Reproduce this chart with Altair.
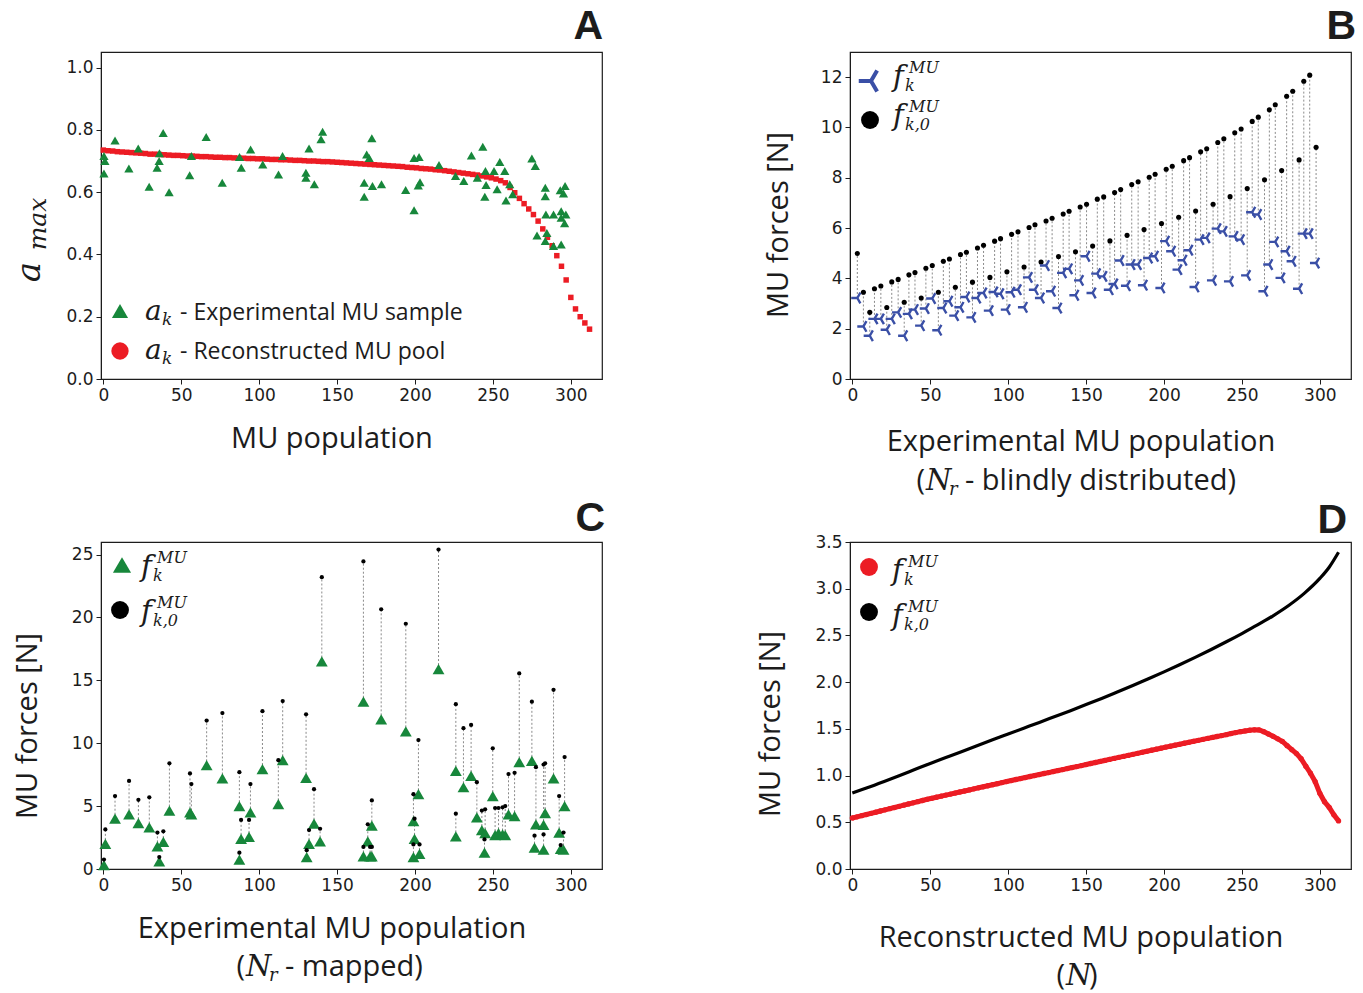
import altair as alt
import pandas as pd

# ---------------- data ----------------
# Panel A: experimental MU sample (green triangles)
a_exp_x = [0.4, 1, 0.4, 7.5, 16.4, 22.4, 29.4, 34.5, 35.8, 36, 38.4, 42.2, 55.4, 56.5, 66, 76.3, 87.4, 88.5,
           94.5, 102.3, 112.4, 115, 130, 130, 132, 135.4, 139.7, 140.7, 167.4, 167.4, 169, 170.6, 172.3, 172.7,
           178.5, 194, 199.4, 199.4, 202.6, 203.2, 202.1, 215.4, 226, 231.3, 236.2, 243.5, 240, 245.2, 245.6,
           244.8, 250.7, 252.7, 254.4, 257.6, 258.4, 260.8, 262.7, 275, 277.2, 278.3, 283.6, 283.6, 284, 283.6,
           284.6, 288.9, 288.9, 293.2, 293.8, 293.8, 295.3, 296.3, 296.8, 293.8, 296]
a_exp_y = [0.716, 0.70, 0.66, 0.766, 0.676, 0.74, 0.617, 0.678, 0.70, 0.725, 0.79, 0.60, 0.654, 0.716, 0.777,
           0.63, 0.713, 0.678, 0.737, 0.689, 0.657, 0.716, 0.662, 0.646, 0.74, 0.625, 0.77, 0.794, 0.585, 0.63,
           0.721, 0.71, 0.773, 0.62, 0.625, 0.607, 0.71, 0.542, 0.713, 0.632, 0.621, 0.687, 0.652, 0.636, 0.718,
           0.746, 0.646, 0.668, 0.623, 0.585, 0.668, 0.609, 0.697, 0.668, 0.573, 0.625, 0.593, 0.708, 0.684,
           0.461, 0.614, 0.587, 0.528, 0.443, 0.469, 0.427, 0.528, 0.606, 0.539, 0.518, 0.596, 0.62, 0.528,
           0.432, 0.50]
# Panel A: reconstructed MU pool (red), every third MU index
a_rec_x = list(range(0, 313, 3))
a_rec_y = [0.735, 0.733, 0.732, 0.730, 0.729, 0.728, 0.727, 0.726, 0.725, 0.724, 0.722, 0.722, 0.721, 0.720,
           0.719, 0.718, 0.718, 0.717, 0.716, 0.716, 0.715, 0.714, 0.714, 0.713, 0.712, 0.712, 0.711, 0.711,
           0.710, 0.709, 0.709, 0.708, 0.708, 0.707, 0.707, 0.706, 0.705, 0.705, 0.704, 0.704, 0.703, 0.702,
           0.702, 0.701, 0.700, 0.700, 0.699, 0.698, 0.698, 0.697, 0.696, 0.695, 0.694, 0.693, 0.692, 0.691,
           0.690, 0.689, 0.688, 0.687, 0.686, 0.685, 0.684, 0.683, 0.682, 0.680, 0.679, 0.678, 0.676, 0.675,
           0.674, 0.672, 0.671, 0.669, 0.667, 0.665, 0.663, 0.661, 0.659, 0.657, 0.655, 0.652, 0.649, 0.646,
           0.642, 0.637, 0.630, 0.615, 0.598, 0.580, 0.563, 0.546, 0.528, 0.507, 0.482, 0.455, 0.428, 0.396,
           0.362, 0.318, 0.262, 0.225, 0.200, 0.180, 0.160]

# Panel B: blindly distributed experimental MUs
b_x = [3.2, 7.1, 11.2, 14.2, 18.3, 22.1, 25.3, 29.4, 33.3, 36.3, 40.2, 44.2, 47.2, 51.3, 55.2, 58.4, 62.3, 66.1,
       69.4, 73.2, 77.1, 80.3, 84.2, 88.3, 91.3, 95.1, 99.2, 102.2, 106.3, 110.2, 113.4, 117.2, 121.1, 124.3,
       128.2, 132.3, 135.3, 139.1, 143.2, 146.2, 150.3, 154.2, 157.2, 161.3, 165.3, 168.3, 172.2, 176.3, 179.3,
       183.4, 187.2, 190.5, 194.3, 198.4, 201.4, 205.3, 209.4, 212.6, 216.4, 220.3, 223.5, 227.4, 231.5, 234.5,
       238.4, 242.4, 245.4, 249.5, 253.4, 256.6, 260.5, 264.5, 267.6, 271.4, 275.5, 278.7, 282.6, 286.7, 289.7,
       293.5, 297.6]
b_f0 = [4.99, 3.45, 2.65, 3.59, 3.70, 2.84, 3.86, 3.96, 3.05, 4.14, 4.23, 3.22, 4.40, 4.51, 3.45, 4.68, 4.77,
        3.65, 4.95, 5.04, 3.85, 5.21, 5.32, 4.04, 5.48, 5.58, 4.26, 5.75, 5.85, 4.45, 6.02, 6.13, 4.65, 6.28,
        6.39, 4.87, 6.56, 6.67, 5.06, 6.84, 6.95, 5.29, 7.15, 7.24, 5.49, 7.41, 7.53, 5.71, 7.73, 7.84, 5.94,
        8.02, 8.14, 6.18, 8.34, 8.46, 6.43, 8.68, 8.80, 6.68, 9.03, 9.15, 6.95, 9.40, 9.55, 7.25, 9.79, 9.94,
        7.57, 10.24, 10.41, 7.92, 10.70, 10.90, 8.29, 11.24, 11.44, 8.71, 11.84, 12.08, 9.21]
b_f = [3.22, 2.09, 1.72, 2.39, 2.39, 1.96, 2.39, 2.65, 1.72, 2.59, 2.76, 2.12, 2.80, 3.20, 1.94, 2.82, 3.09,
       2.52, 2.85, 3.26, 2.45, 3.22, 3.42, 2.72, 3.46, 3.39, 2.76, 3.45, 3.55, 2.85, 4.04, 3.55, 3.22, 4.51,
       3.49, 2.82, 4.22, 4.38, 3.33, 3.92, 4.88, 3.42, 4.19, 4.08, 3.55, 3.78, 4.71, 3.71, 4.55, 4.55, 3.73,
       4.81, 4.88, 3.62, 5.48, 5.08, 4.35, 4.72, 5.12, 3.66, 5.54, 5.61, 3.92, 5.98, 5.87, 3.88, 5.67, 5.54,
       4.12, 6.63, 6.54, 3.49, 4.55, 5.45, 4.02, 5.08, 4.68, 3.59, 5.78, 5.78, 4.61]

# Panel C: mapped experimental MUs
c_x = [0.4, 1.3, 7.5, 16.5, 22.5, 29.5, 34.7, 35.9, 38.5, 42.4, 55.6, 56.5, 66.3, 76.4, 87.3, 87.3, 88.4, 93.5,
       94.4, 102.1, 112.3, 115.1, 130.1, 130.5, 132.0, 135.2, 139.1, 140.2, 166.9, 166.9, 169.7, 171.2, 172.3,
       172.3, 178.3, 194.1, 199.0, 199.7, 199.0, 202.2, 202.9, 215.1, 226.2, 226.2, 231.1, 236.0, 239.7, 242.9,
       244.6, 245.0, 249.9, 251.4, 253.6, 256.2, 257.9, 260.0, 263.9, 266.9, 275.0, 277.6, 276.7, 282.5, 283.5,
       282.5, 288.9, 292.5, 293.5, 295.3, 296.0]
c_f = [0.3, 2.0, 4.0, 4.35, 3.65, 3.3, 1.8, 0.6, 2.15, 4.65, 4.5, 4.35, 8.25, 7.2, 5.0, 0.75, 2.4, 2.55, 4.5,
       7.95, 5.15, 8.65, 7.25, 0.95, 2.0, 3.6, 2.2, 16.5, 13.3, 1.0, 2.2, 1.0, 1.0, 3.45, 11.9, 10.95, 3.8, 2.4,
       0.95, 5.95, 1.2, 15.9, 7.8, 2.6, 6.5, 7.4, 4.1, 3.1, 1.3, 2.85, 5.8, 2.7, 2.85, 2.75, 2.7, 4.35, 4.2,
       8.5, 8.6, 3.55, 1.7, 3.5, 4.45, 1.55, 7.2, 2.9, 1.6, 1.55, 5.0]
c_f0 = [0.75, 3.15, 5.8, 7.0, 5.5, 5.7, 2.9, 0.95, 3.0, 8.4, 7.6, 6.75, 11.8, 12.4, 7.7, 1.3, 3.9, 3.9, 6.75,
        12.55, 8.65, 13.35, 12.3, 1.5, 3.1, 6.35, 3.2, 23.2, 24.45, 1.75, 3.55, 1.75, 1.75, 5.45, 20.65, 19.5,
        5.95, 4.0, 1.95, 10.25, 1.95, 25.4, 13.1, 4.4, 11.2, 11.45, 6.9, 4.65, 2.35, 4.75, 9.6, 4.85, 4.85, 4.9,
        5.0, 7.55, 7.65, 15.55, 13.3, 8.1, 2.65, 8.3, 8.4, 2.75, 14.25, 5.8, 1.9, 2.9, 8.9]

# Panel D: reconstructed MU population
d_f0_x = [0, 10, 20, 30, 40, 50, 60, 70, 80, 90, 100, 110, 120, 130, 140, 150, 160, 170, 180, 190, 200, 210,
          220, 230, 240, 250, 260, 270, 280, 290, 300, 306, 312]
d_f0_y = [0.814, 0.872, 0.934, 0.998, 1.064, 1.130, 1.193, 1.256, 1.320, 1.383, 1.445, 1.507, 1.569, 1.632,
          1.695, 1.760, 1.826, 1.895, 1.965, 2.037, 2.110, 2.186, 2.265, 2.347, 2.432, 2.520, 2.612, 2.710,
          2.820, 2.950, 3.110, 3.230, 3.390]
d_f_x = list(range(0, 313, 3))
d_f_y = [0.546, 0.558, 0.571, 0.583, 0.596, 0.608, 0.621, 0.633, 0.646, 0.658, 0.671, 0.683, 0.696, 0.708,
         0.721, 0.733, 0.746, 0.757, 0.768, 0.780, 0.791, 0.802, 0.813, 0.824, 0.835, 0.846, 0.858, 0.869,
         0.880, 0.891, 0.902, 0.913, 0.925, 0.936, 0.947, 0.958, 0.968, 0.979, 0.990, 1.000, 1.011, 1.022,
         1.032, 1.043, 1.054, 1.064, 1.075, 1.086, 1.096, 1.107, 1.118, 1.129, 1.140, 1.151, 1.162, 1.173,
         1.184, 1.195, 1.205, 1.216, 1.227, 1.238, 1.249, 1.260, 1.271, 1.282, 1.293, 1.304, 1.314, 1.325,
         1.335, 1.346, 1.356, 1.367, 1.377, 1.388, 1.398, 1.408, 1.418, 1.428, 1.438, 1.450, 1.460, 1.470,
         1.478, 1.486, 1.490, 1.488, 1.470, 1.445, 1.420, 1.393, 1.365, 1.320, 1.277, 1.235, 1.180, 1.100,
         1.025, 0.935, 0.810, 0.720, 0.660, 0.580, 0.515]

x_ticks = [0, 50, 100, 150, 200, 250, 300]

# ---------------- style ----------------
FONT_T = "Open Sans"
FONT_N = "DejaVu Sans"
FONT_M = "DejaVu Serif"
INK = "#1c1c1c"
GREEN = "#17873b"
RED = "#ec1c24"
BLUE = "#3a4fa6"
GRAY = "#8a8a8a"
TRI_LEFT = "M-1,0L0,0M0,0L0.5,-0.866M0,0L0.5,0.866"
W, H = 501, 327
TS = 29  # axis title size
DUMMY = pd.DataFrame({"d": [0]})


def X(title, pad, field="x"):
    return alt.X(f"{field}:Q", scale=alt.Scale(domain=[-1.5, 320], nice=False, zero=False),
                 axis=alt.Axis(values=x_ticks, title=title, titlePadding=pad, titleX=W / 2 - 20))


def Y(field, dom, vals, fmt, title, pad, ty=0):
    return alt.Y(f"{field}:Q", scale=alt.Scale(domain=dom, nice=False, zero=False),
                 axis=alt.Axis(values=vals, format=fmt, title=title, titlePadding=pad, titleY=H / 2 + ty))


def txt(s, x, y, size, font=FONT_T, style="normal", align="left", baseline="alphabetic", angle=0,
        weight="normal", color=INK):
    return alt.Chart(DUMMY).mark_text(text=s, font=font, fontSize=size, fontStyle=style, align=align,
                                      baseline=baseline, angle=angle, fontWeight=weight, color=color
                                      ).encode(x=alt.value(x), y=alt.value(y))


def mk(shape, x, y, size, color, filled=True, sw=1):
    return alt.Chart(DUMMY).mark_point(shape=shape, filled=filled, size=size, color=color, opacity=1,
                                       strokeWidth=sw).encode(x=alt.value(x), y=alt.value(y))


def fnot(x, base, sub):
    return [txt("f", x, base, 29, FONT_M, "italic"),
            txt("MU", x + 16, base - 13, 16, FONT_M, "italic"),
            txt(sub, x + 12, base + 5, 16, FONT_M, "italic")]


# ---------------- panel A ----------------
ya = ("y", [0, 1.05], [0, 0.2, 0.4, 0.6, 0.8, 1.0], ".1f", "", 10)
dfa1 = pd.DataFrame({"x": a_exp_x, "y": a_exp_y})
dfa2 = pd.DataFrame({"x": a_rec_x, "y": a_rec_y})
XA = X("MU population", 21)
A_layers = [
    alt.Chart(dfa2).mark_square(size=30, color=RED, opacity=1).encode(XA, Y(*ya)),
    alt.Chart(dfa1).mark_point(shape="triangle-up", filled=True, size=85, color=GREEN, opacity=1)
        .encode(XA, Y(*ya)),
    txt("a", -71, 220, 34, FONT_M, "italic", "center", "middle", 270),
    txt("max", -63, 172, 25, FONT_M, "italic", "center", "middle", 270),
    mk("triangle-up", 19, 259, 260, GREEN),
    mk("circle", 19, 299, 300, RED),
    txt("a", 44, 268, 28, FONT_M, "italic"),
    txt("k", 61, 273, 17, FONT_M, "italic"),
    txt("- Experimental MU sample", 79, 268, 23),
    txt("a", 44, 307, 28, FONT_M, "italic"),
    txt("k", 61, 312, 17, FONT_M, "italic"),
    txt("- Reconstructed MU pool", 79, 307, 23),
    txt("A", W + 1, -13, 41, "Liberation Sans", align="right", weight="bold"),
]
A = alt.layer(*A_layers).properties(width=W, height=H)

# ---------------- panel B ----------------
yb = ("y", [0, 13], [0, 2, 4, 6, 8, 10, 12], "d", "MU forces [N]", 27, 9)
dfb = pd.DataFrame({"x": b_x, "y": b_f, "y0": b_f0})
XB = X("Experimental MU population", 24)
B_layers = [
    alt.Chart(dfb).mark_rule(color=GRAY, strokeDash=[2, 2], strokeWidth=1)
        .encode(XB, Y(*yb), y2="y0:Q"),
    alt.Chart(dfb).mark_circle(size=26, color="black", opacity=1).encode(XB, Y("y0", *yb[1:])),
    alt.Chart(dfb).mark_point(shape=TRI_LEFT, filled=False, size=150, color=BLUE, opacity=1, strokeWidth=2.4)
        .encode(XB, Y(*yb)),
    mk(TRI_LEFT, 21, 29, 600, BLUE, filled=False, sw=4),
    mk("circle", 20, 68, 320, "black"),
    *fnot(43, 34, "k"),
    *fnot(43, 73, "k,0"),
    txt("(", 75, 429, TS, align="right", baseline="middle"),
    txt("N", 76, 429, TS, FONT_M, "italic", baseline="middle"),
    txt("r", 99, 438, 18, FONT_M, "italic", baseline="middle"),
    txt("- blindly distributed)", 115, 429, TS, baseline="middle"),
    txt("B", W + 5, -13, 41, "Liberation Sans", align="right", weight="bold"),
]
B = alt.layer(*B_layers).properties(width=W, height=H)

# ---------------- panel C ----------------
yc = ("y", [0, 26], [0, 5, 10, 15, 20, 25], "d", "MU forces [N]", 29, 20)
dfc = pd.DataFrame({"x": c_x, "y": c_f, "y0": c_f0})
XC = X("Experimental MU population", 21)
C_layers = [
    alt.Chart(dfc).mark_rule(color=GRAY, strokeDash=[2, 2], strokeWidth=1)
        .encode(XC, Y(*yc), y2="y0:Q"),
    alt.Chart(dfc).mark_point(shape="triangle-up", filled=True, size=140, color=GREEN, opacity=1)
        .encode(XC, Y(*yc)),
    alt.Chart(dfc).mark_circle(size=18, color="black", opacity=1).encode(XC, Y("y0", *yc[1:])),
    mk("triangle-up", 21, 23, 330, GREEN),
    mk("circle", 19, 68, 320, "black"),
    *fnot(40, 34, "k"),
    *fnot(40, 79, "k,0"),
    txt("(", 144, 425, TS, align="right", baseline="middle"),
    txt("N", 145, 425, TS, FONT_M, "italic", baseline="middle"),
    txt("r", 168, 434, 18, FONT_M, "italic", baseline="middle"),
    txt("- mapped)", 184, 425, TS, baseline="middle"),
    txt("C", W + 3, -11, 41, "Liberation Sans", align="right", weight="bold"),
]
C = alt.layer(*C_layers).properties(width=W, height=H)

# ---------------- panel D ----------------
yd = ("y", [0, 3.5], [0, 0.5, 1.0, 1.5, 2.0, 2.5, 3.0, 3.5], ".1f", "MU forces [N]", 29, 18)
dfd0 = pd.DataFrame({"x": d_f0_x, "y": d_f0_y})
dfd = pd.DataFrame({"x": d_f_x, "y": d_f_y})
XD = X("Reconstructed MU population", 30)
D_layers = [
    alt.Chart(dfd0).mark_line(color="black", strokeWidth=3.2, interpolate="monotone").encode(XD, Y(*yd)),
    alt.Chart(dfd).mark_line(color=RED, strokeWidth=5).encode(XD, Y(*yd)),
    alt.Chart(dfd).mark_circle(size=28, color=RED, opacity=1).encode(XD, Y(*yd)),
    mk("circle", 19, 25, 320, RED),
    mk("circle", 19, 70, 320, "black"),
    *fnot(42, 38, "k"),
    *fnot(42, 83, "k,0"),
    txt("(", 215, 434, TS, align="right", baseline="middle"),
    txt("N", 216, 434, TS, FONT_M, "italic", baseline="middle"),
    txt(")", 239, 434, TS, baseline="middle"),
    txt("D", W - 4, -9, 41, "Liberation Sans", align="right", weight="bold"),
]
D = alt.layer(*D_layers).properties(width=W, height=H)

chart = alt.concat(A, B, C, D, columns=2, spacing={"row": -3, "column": 150}).properties(
    padding={"left": 12, "top": 5, "right": 5, "bottom": 5}, background="white"
).configure_axis(
    labelFont=FONT_N, labelFontSize=17, labelColor=INK, labelPadding=3,
    tickColor=INK, tickSize=5, domainColor=INK, grid=False,
    titleFont=FONT_T, titleFontSize=TS, titleFontWeight="normal", titleColor=INK
).configure_view(stroke=INK, strokeWidth=1.2)

chart.save("out.html", embed_options={"renderer": "svg", "actions": False})
